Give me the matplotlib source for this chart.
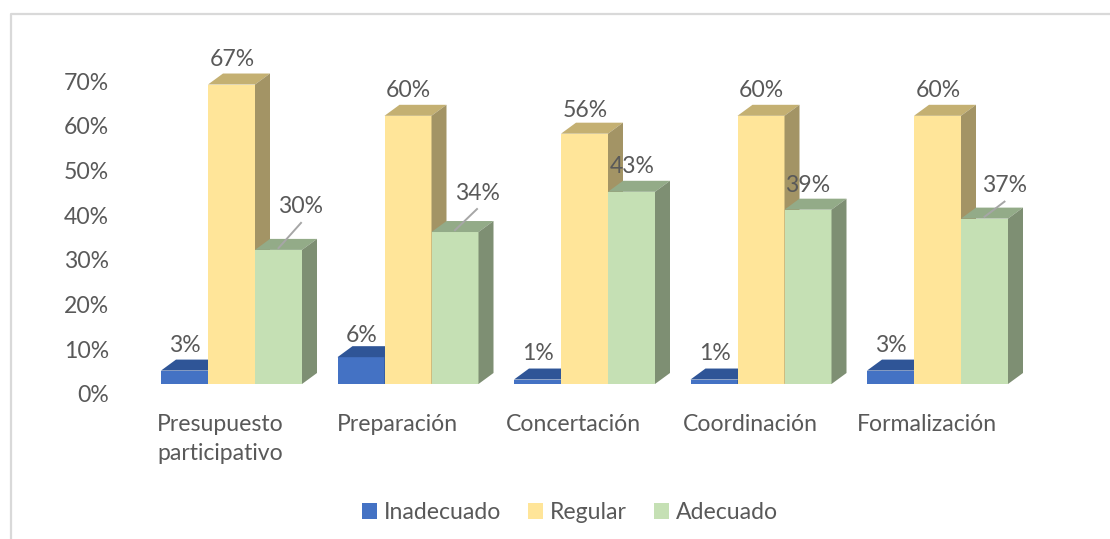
""" Nivel de presupuesto participativo por dimension, barras con efecto 3D"""

# %% data
import matplotlib

matplotlib.use("Agg")
import matplotlib.pyplot as plt
from matplotlib.lines import Line2D
from matplotlib.patches import Polygon, Patch
from matplotlib.transforms import ScaledTranslation

categories = ["Presupuesto\nparticipativo", "Preparación", "Concertación", "Coordinación", "Formalización"]
series_names = ["Inadecuado", "Regular", "Adecuado"]
inadecuado = [3, 6, 1, 1, 3]
regular = [67, 60, 56, 60, 60]
adecuado = [30, 34, 43, 39, 37]
y_ticks = [0, 10, 20, 30, 40, 50, 60, 70]

# %% plot
plt.rcParams["font.family"] = ["Lato", "DejaVu Sans"]
W, H = 1110, 539
TXT = "#595959"
FS = 16.6
fig = plt.figure(figsize=(W / 100, H / 100), dpi=100, facecolor="white")

# axes placed in pixels so that one category is 176.5 px and 1% is 4.47 px
left, floor, px_cat, px_pct = 143.25, 384, 176.5, 4.47
ax = fig.add_axes([left / W, 1 - floor / H, 5 * px_cat / W, 70 * px_pct / H])
ax.set_xlim(-0.5, 4.5)
ax.set_ylim(0, 70)
for s in ax.spines.values():
    s.set_visible(False)

bar_w = 47 / px_cat
depth_x = 15 / px_cat
depth_y = 11 / px_pct
front = ["#4472C4", "#FFE599", "#C5E0B4"]
top = ["#2F5597", "#C4B072", "#93AB88"]
side = ["#2A4D88", "#A39465", "#7E8F73"]

# label shift from bar top, in px, and whether a leader line is drawn
label_dx = [[0.5] * 5, [0.5] * 5, [22.5, 22, 0.5, 0, 20]]
label_dy = [[25, 22, 26, 26, 25], [25, 25, 23, 25, 25], [43, 39, 25, 24, 33]]
leader = [[False] * 5, [False] * 5, [True, True, False, False, True]]

values = [inadecuado, regular, adecuado]
for c in range(len(categories)):
    for k, vals in enumerate(values):
        v = vals[c]
        x0 = c + (k - 1.5) * bar_w
        x1 = x0 + bar_w
        ax.bar(x0, v, width=bar_w, align="edge", color=front[k], lw=0, zorder=3)
        ax.add_patch(Polygon([(x0, v), (x0 + depth_x, v + depth_y), (x1 + depth_x, v + depth_y), (x1, v)],
                             closed=True, fc=top[k], lw=0, zorder=3, clip_on=False))
        ax.add_patch(Polygon([(x1, 0), (x1 + depth_x, depth_y), (x1 + depth_x, v + depth_y), (x1, v)],
                             closed=True, fc=side[k], lw=0, zorder=3, clip_on=False))
        lx = x0 + bar_w / 2 + label_dx[k][c] / px_cat
        ly = v + label_dy[k][c] / px_pct
        ax.text(lx, ly, f"{v}%", ha="center", va="center", fontsize=FS, color=TXT, zorder=6, clip_on=False)
        if leader[k][c]:
            ax.plot([x0 + bar_w / 2, lx], [v + 0.4, ly - 16 / px_pct], color="#A6A6A6", lw=1.4, zorder=5,
                    clip_on=False)

# y labels sit under the front floor line, x labels left of the group centre
ax.set_yticks(y_ticks)
ax.set_yticklabels([f"{t}%" for t in y_ticks], fontsize=FS, color=TXT)
ax.tick_params(axis="y", length=0, pad=24.5)
for lab in ax.get_yticklabels():
    lab.set_transform(lab.get_transform() + ScaledTranslation(0, -10 / 100, fig.dpi_scale_trans))

ax.set_xticks(range(len(categories)))
ax.set_xticklabels(categories, fontsize=FS, color=TXT, linespacing=1.45)
ax.tick_params(axis="x", length=0, pad=21.5)
for lab in ax.get_xticklabels():
    lab.set_transform(lab.get_transform() + ScaledTranslation(-11 / 100, 0, fig.dpi_scale_trans))

handles = [Patch(fc=front[k], lw=0, label=series_names[k]) for k in range(3)]
fig.legend(handles=handles, loc="center", bbox_to_anchor=(570 / W, 1 - 512.5 / H), ncol=3, frameon=False,
           fontsize=FS, labelcolor=TXT, handlelength=0.65, handleheight=0.65, handletextpad=0.28,
           columnspacing=1.2)

# outer frame, only top and left show in the crop
fig.add_artist(Line2D([11 / W, 11 / W, 1], [0, 1 - 13.5 / H, 1 - 13.5 / H], color="#D9D9D9", lw=1.6))

fig.savefig("out.png", dpi=100)
